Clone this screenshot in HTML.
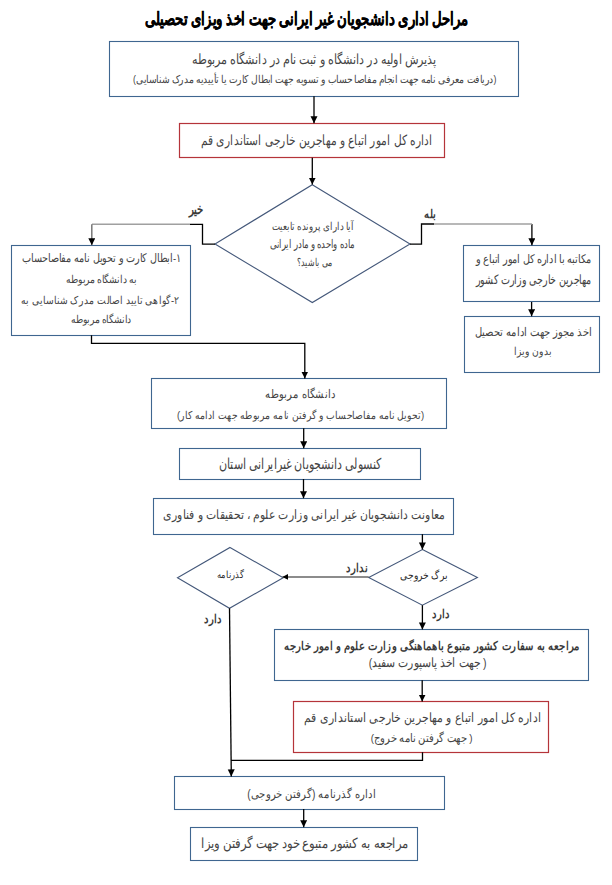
<!DOCTYPE html>
<html><head><meta charset="utf-8">
<style>
html,body{margin:0;padding:0;background:#fff;}
body{width:612px;height:885px;position:relative;overflow:hidden;font-family:"Liberation Sans",sans-serif;}
svg{position:absolute;left:0;top:0;}
.t{position:absolute;left:0;top:0;width:1400px;text-align:center;direction:rtl;white-space:nowrap;line-height:1;font-size:20px;color:#444;transform-origin:0 0;}
</style></head><body>
<svg width="612" height="885" viewBox="0 0 612 885">
<defs>
<marker id="ah" markerWidth="8" markerHeight="8" refX="7" refY="3.5" orient="auto" markerUnits="userSpaceOnUse">
<path d="M0,0 L7,3.5 L0,7 z" fill="#000"/>
</marker>
<marker id="as" markerWidth="7" markerHeight="7" refX="6" refY="3" orient="auto" markerUnits="userSpaceOnUse">
<path d="M0,0 L6,3 L0,6 z" fill="#000"/>
</marker>
</defs>
<g fill="none" stroke="#3F6690" stroke-width="1.1">
<rect x="109.5" y="41.5" width="409.0" height="55.0"/>
<rect x="11.5" y="245.5" width="179.0" height="90.0"/>
<rect x="463.5" y="245.5" width="136.0" height="56.0"/>
<rect x="464.5" y="316.5" width="135.0" height="56.0"/>
<rect x="151.5" y="378.5" width="295.0" height="50.0"/>
<rect x="179.5" y="448.5" width="241.0" height="31.0"/>
<rect x="153.5" y="498.5" width="300.0" height="36.0"/>
<rect x="274.5" y="629.5" width="314.0" height="51.0"/>
<rect x="174.5" y="776.5" width="270.0" height="33.0"/>
<rect x="190.5" y="827.5" width="227.0" height="33.0"/>
</g>
<g fill="none" stroke="#44587A" stroke-width="1.1">
<path d="M312.3,184.7 L410,244 L312.3,302.5 L215,244 Z"/>
<path d="M422.4,549.5 L477.4,577.6 L422.4,605.2 L368.7,577.6 Z"/>
<path d="M230,547.5 L283.2,577.7 L229.5,608.3 L177.5,577.7 Z"/>
</g>
<g fill="none" stroke="#B5343A" stroke-width="1.2">
<rect x="179.5" y="123.5" width="265" height="34"/>
<rect x="293.5" y="701.5" width="255" height="51"/>
</g>
<g fill="none" stroke="#000" stroke-width="1.3">
<path d="M314,96.3 L314,123.3" marker-end="url(#ah)"/>
<path d="M312.3,157.8 L312.3,184.6" marker-end="url(#ah)"/>
<path d="M215,244.2 L202.5,244.2 L202.5,224.3 L190,224.3"/>
<path d="M410,244.2 L421.5,244.2 L421.5,224 L434,224"/>
<path d="M531.9,224 L531.9,245.2" marker-end="url(#ah)"/>
<path d="M91.5,335.3 L91.5,343.3 L304.8,343.3 L304.8,378.5" marker-end="url(#ah)"/>
<path d="M531.6,302 L531.6,316.3" marker-end="url(#ah)"/>
<path d="M303.7,428.3 L303.7,448.3" marker-end="url(#ah)"/>
<path d="M303.5,479 L303.5,498.2" marker-end="url(#ah)"/>
<path d="M422.4,534.2 L422.4,549.4" marker-end="url(#ah)"/>

<path d="M229.5,608.3 L231.3,776.4" marker-end="url(#ah)"/>
<path d="M422.4,605.2 L422.4,629.4" marker-end="url(#ah)"/>
<path d="M422.2,680.3 L422.2,701.5" marker-end="url(#ah)"/>
<path d="M422.5,752.3 L422.5,760.3 L231,760.3"/>
<path d="M303.7,809 L303.7,827.2" marker-end="url(#ah)"/>
</g>
<g fill="none" stroke="#a0a0a0" stroke-width="1.5">
<path d="M190,224.3 L92,224.3"/>
<path d="M434,224 L532,224"/>
</g>
<g fill="none" stroke="#777" stroke-width="1.5">
<path d="M91.8,224.3 L91.8,245.2" marker-end="url(#ah)"/>
</g>
<g fill="none" stroke="#666" stroke-width="1.5"><path d="M368.7,576.9 L282.4,576.9" marker-end="url(#as)"/></g>
</svg>

<div class="t" style="font-weight:bold;color:#000;-webkit-text-stroke:0.45px #000;transform:translate(-146.58px,9.91px) scale(0.6472,0.8857)">مراحل اداری دانشجویان غیر ایرانی جهت اخذ ویزای تحصیلی</div>
<div class="t" style="font-weight:normal;transform:translate(-67.92px,52.69px) scale(0.5460,0.6870)">پذیرش اولیه در دانشگاه و ثبت نام در دانشگاه مربوطه</div>
<div class="t" style="font-weight:normal;transform:translate(6.39px,74.48px) scale(0.4405,0.5286)">(دریافت معرفی نامه جهت انجام مفاصا حساب و تسویه جهت ابطال کارت یا  تأییدیه مدرک شناسایی)</div>
<div class="t" style="font-weight:normal;transform:translate(-62.58px,132.97px) scale(0.5416,0.7150)">اداره کل امور اتباع و مهاجرین خارجی استانداری قم</div>
<div class="t" style="font-weight:normal;transform:translate(9.62px,220.35px) scale(0.4328,0.5522)">آیا دارای پرونده تابعیت</div>
<div class="t" style="font-weight:normal;transform:translate(23.34px,238.36px) scale(0.4128,0.5779)">ماده واحده و مادر ایرانی</div>
<div class="t" style="font-weight:normal;transform:translate(36.31px,256.68px) scale(0.3977,0.5568)">می باشید؟</div>
<div class="t" style="font-weight:bold;color:#3a3a3a;transform:translate(-158.47px,202.46px) scale(0.5067,0.7063)">خیر</div>
<div class="t" style="font-weight:bold;color:#3a3a3a;transform:translate(70.26px,207.47px) scale(0.5143,0.6171)">بله</div>
<div class="t" style="font-weight:normal;transform:translate(-228.10px,252.33px) scale(0.4709,0.5850)">۱-ابطال کارت و تحویل نامه مفاصاحساب</div>
<div class="t" style="font-weight:normal;transform:translate(-207.61px,274.24px) scale(0.4414,0.5297)">به دانشگاه مربوطه</div>
<div class="t" style="font-weight:normal;transform:translate(-234.17px,294.18px) scale(0.4779,0.5735)">۲-گواهی تایید اصالت مدرک شناسایی به</div>
<div class="t" style="font-weight:normal;transform:translate(-208.25px,314.23px) scale(0.4418,0.5301)">دانشگاه مربوطه</div>
<div class="t" style="font-weight:normal;transform:translate(205.27px,253.54px) scale(0.4690,0.5800)">مکاتبه با اداره کل امور اتباع و</div>
<div class="t" style="font-weight:normal;transform:translate(205.27px,273.52px) scale(0.4690,0.6400)">مهاجرین خارجی وزارت کشور</div>
<div class="t" style="font-weight:normal;transform:translate(186.65px,325.62px) scale(0.4953,0.5943)">اخذ مجوز جهت ادامه تحصیل</div>
<div class="t" style="font-weight:normal;transform:translate(199.68px,345.39px) scale(0.4763,0.5716)">بدون ویزا</div>
<div class="t" style="font-weight:normal;transform:translate(-59.58px,387.12px) scale(0.5142,0.6170)">دانشگاه مربوطه</div>
<div class="t" style="font-weight:normal;transform:translate(-30.19px,409.45px) scale(0.4724,0.5669)">(تحویل نامه مفاصاحساب و گرفتن نامه مربوطه جهت ادامه کار)</div>
<div class="t" style="font-weight:normal;transform:translate(-76.05px,456.85px) scale(0.5375,0.7250)">کنسولی دانشجویان غیرایرانی استان</div>
<div class="t" style="font-weight:normal;transform:translate(-74.59px,507.81px) scale(0.5411,0.6493)">معاونت دانشجویان غیر ایرانی وزارت علوم ، تحقیقات و فناوری</div>
<div class="t" style="font-weight:normal;color:#2a2a2a;transform:translate(100.85px,569.98px) scale(0.4616,0.5539)">برگ خروجی</div>
<div class="t" style="font-weight:bold;color:#3a3a3a;transform:translate(-5.51px,561.65px) scale(0.5179,0.6215)">ندارد</div>
<div class="t" style="font-weight:normal;color:#2a2a2a;transform:translate(-64.93px,568.93px) scale(0.4219,0.5062)">گذرنامه</div>
<div class="t" style="font-weight:bold;color:#3a3a3a;transform:translate(80.11px,607.28px) scale(0.5156,0.6188)">دارد</div>
<div class="t" style="font-weight:bold;color:#3a3a3a;transform:translate(-150.42px,612.49px) scale(0.5187,0.6225)">دارد</div>
<div class="t" style="font-weight:bold;color:#3a3a3a;transform:translate(68.03px,639.54px) scale(0.5203,0.6244)">مراجعه به سفارت کشور متبوع باهماهنگی وزارت علوم و امور خارجه</div>
<div class="t" style="font-weight:normal;transform:translate(58.42px,656.50px) scale(0.5275,0.6330)">( جهت اخذ پاسپورت سفید)</div>
<div class="t" style="font-weight:normal;transform:translate(34.43px,710.37px) scale(0.5544,0.6652)">اداره کل امور اتباع و مهاجرین خارجی استانداری قم</div>
<div class="t" style="font-weight:normal;transform:translate(79.86px,732.10px) scale(0.4883,0.5860)">( جهت گرفتن نامه خروج)</div>
<div class="t" style="font-weight:normal;transform:translate(-47.90px,787.03px) scale(0.5134,0.6160)">اداره گذرنامه (گرفتن خروجی)</div>
<div class="t" style="font-weight:normal;transform:translate(-90.06px,836.99px) scale(0.5641,0.6769)">مراجعه به کشور متبوع خود جهت گرفتن ویزا</div>
</body></html>
